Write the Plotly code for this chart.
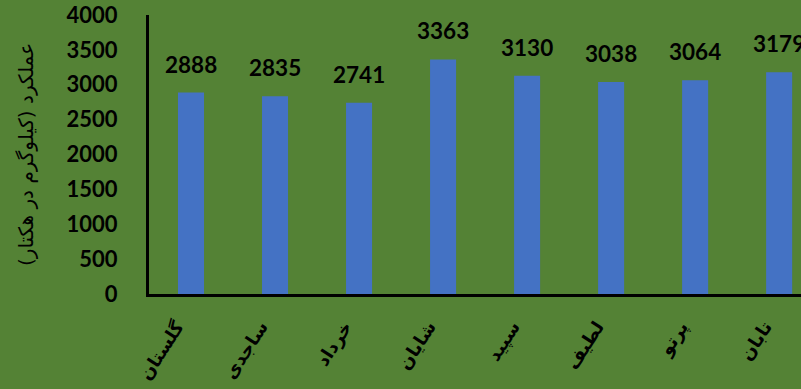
import plotly.graph_objects as go

# Cultivars and grain yield (kg/ha)
cultivars = ["گلستان", "ساجدی", "خرداد", "شایان", "سپید", "لطیف", "پرتو", "تابان"]
yields = [2888, 2835, 2741, 3363, 3130, 3038, 3064, 3179]
y_ticks = [0, 500, 1000, 1500, 2000, 2500, 3000, 3500, 4000]

bg = "#548235"
bar_color = "#4472C4"
num_font = "Lato, 'Open Sans', sans-serif"
fa_font = "'DejaVu Sans', sans-serif"

fig = go.Figure(
    go.Bar(
        x=cultivars,
        y=yields,
        marker=dict(color=bar_color, line=dict(width=0)),
        width=0.31,
        hoverinfo="skip",
    )
)

# value labels above each bar
for name, val in zip(cultivars, yields):
    fig.add_annotation(
        x=name, y=val, text=f"<b>{val}</b>", showarrow=False,
        yanchor="bottom", yshift=13,
        font=dict(family=num_font, size=22.5, color="black"),
    )

fig.update_layout(
    width=801, height=389,
    margin=dict(l=149, r=0, t=15, b=95),
    paper_bgcolor=bg, plot_bgcolor=bg,
    showlegend=False,
    xaxis=dict(
        range=[-0.5, 7.26],
        showline=True, linecolor="black", linewidth=3,
        ticks="", tickangle=-57,
        tickvals=cultivars,
        ticktext=[f"<b>{c}</b>" for c in cultivars],
        tickfont=dict(family=fa_font, size=18, color="black"),
        ticklabelshift=-14, ticklabelstandoff=12,
        showgrid=False, zeroline=False,
    ),
    yaxis=dict(
        range=[0, 4000],
        tickvals=y_ticks,
        ticktext=[f"<b>{v}</b>" for v in y_ticks],
        tickfont=dict(family=num_font, size=22, color="black"),
        showline=True, linecolor="black", linewidth=3,
        ticks="", ticklabelstandoff=24,
        showgrid=False, zeroline=False,
        title=dict(
            text="عملکرد (کیلوگرم در هکتار)",
            font=dict(family=fa_font, size=20, color="black"),
            standoff=28,
        ),
    ),
)

fig.write_html("out.html")
